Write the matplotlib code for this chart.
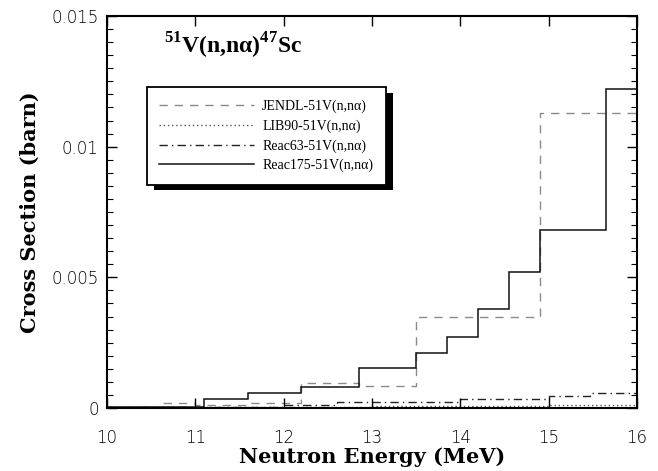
import matplotlib
matplotlib.use("Agg")
import matplotlib.pyplot as plt
from matplotlib.patches import Rectangle
from matplotlib.ticker import MultipleLocator

# ---- data ----
edges_reac175 = [10.0, 11.1, 11.6, 12.2, 12.85, 13.5, 13.85, 14.2, 14.55, 14.9, 15.65, 16.0]
vals_reac175 = [0.00003, 0.00034, 0.00057, 0.0008, 0.00153, 0.0021, 0.0027, 0.0038, 0.0052, 0.0068, 0.0122]

edges_jendl = [10.0, 10.6, 11.0, 11.6, 12.2, 12.85, 13.5, 14.9, 16.0]
vals_jendl = [0.00005, 0.0002, 0.0001, 0.0002, 0.00095, 0.00085, 0.0035, 0.0113]

edges_reac63 = [10.0, 11.0, 12.0, 12.6, 14.0, 15.0, 15.47, 16.0]
vals_reac63 = [0.00002, 0.00005, 0.0001, 0.00022, 0.00035, 0.00046, 0.00058]

edges_lib90 = [10.0, 11.0, 12.0, 13.0, 14.0, 15.0, 16.0]
vals_lib90 = [0.00001, 0.00002, 0.00004, 0.00006, 0.00008, 0.0001]

labels = ["JENDL-51V(n,nα)", "LIB90-51V(n,nα)", "Reac63-51V(n,nα)", "Reac175-51V(n,nα)"]
xticks = [10, 11, 12, 13, 14, 15, 16]
yticks = [0, 0.005, 0.01, 0.015]
yticklabels = ["0", "0.005", "0.01", "0.015"]

plt.rcParams["mathtext.fontset"] = "custom"
plt.rcParams["mathtext.rm"] = "Liberation Serif:bold"
plt.rcParams["mathtext.bf"] = "Liberation Serif:bold"

fig = plt.figure(figsize=(6.58, 4.71), dpi=100)
ax = fig.add_axes([0.1626, 0.1338, 0.8054, 0.8322])

h_j = ax.stairs(vals_jendl, edges_jendl, color="#8a8a8a", lw=1.0, linestyle=(0, (6, 5)), label=labels[0])
h_l = ax.stairs(vals_lib90, edges_lib90, color="#555555", lw=1.0, linestyle=(0, (1, 2)), label=labels[1])
h_r63 = ax.stairs(vals_reac63, edges_reac63, color="#222222", lw=1.0, linestyle=(0, (6, 3, 1, 3)), label=labels[2])
h_r175 = ax.stairs(vals_reac175, edges_reac175, color="#111111", lw=1.1, linestyle="-", label=labels[3])

ax.set_xlim(10, 16)
ax.set_ylim(0, 0.015)
ax.set_xticks(xticks)
ax.set_xticklabels([str(t) for t in xticks])
ax.set_yticks(yticks)
ax.set_yticklabels(yticklabels)
ax.yaxis.set_minor_locator(MultipleLocator(0.0005))
ax.tick_params(which="both", direction="in", top=True, right=True, labelsize=12)
ax.tick_params(which="major", length=7, width=1)
ax.tick_params(which="minor", length=4, width=0.8)
ax.tick_params(axis="x", pad=15)
ax.tick_params(axis="y", pad=6)
for t in ax.get_xticklabels() + ax.get_yticklabels():
    t.set_fontfamily("DejaVu Sans")
    t.set_fontweight("light")
for s in ax.spines.values():
    s.set_linewidth(1.5)

ax.set_xlabel("Neutron Energy (MeV)", fontfamily="DejaVu Serif", fontweight="bold", fontsize=15, labelpad=0)
ax.set_ylabel("Cross Section (barn)", fontfamily="DejaVu Serif", fontweight="bold", fontsize=15, labelpad=8)

ax.text(0.108, 0.925, r"$^{51}$V(n,nα)$^{47}$Sc", transform=ax.transAxes,
        fontfamily="Liberation Serif", fontweight="bold", fontsize=17, va="center", ha="left")

leg = ax.legend(handles=[h_j, h_l, h_r63, h_r175], labels=labels,
                loc="upper left", bbox_to_anchor=(0.062, 0.836), frameon=True,
                prop={"family": "Liberation Serif", "size": 10},
                handlelength=6.8, labelspacing=0.45, borderpad=0.9, handletextpad=0.6,
                fancybox=False, edgecolor="black", framealpha=1.0, facecolor="white")
leg.get_frame().set_linewidth(1.3)
leg.set_zorder(5)

fig.canvas.draw()
bb = leg.get_window_extent().transformed(ax.transAxes.inverted())
ax.add_patch(Rectangle((bb.x0 + 0.014, bb.y0 - 0.014), bb.width, bb.height,
                       transform=ax.transAxes, facecolor="black", edgecolor="none", zorder=4))

fig.savefig("out.png", dpi=100)
